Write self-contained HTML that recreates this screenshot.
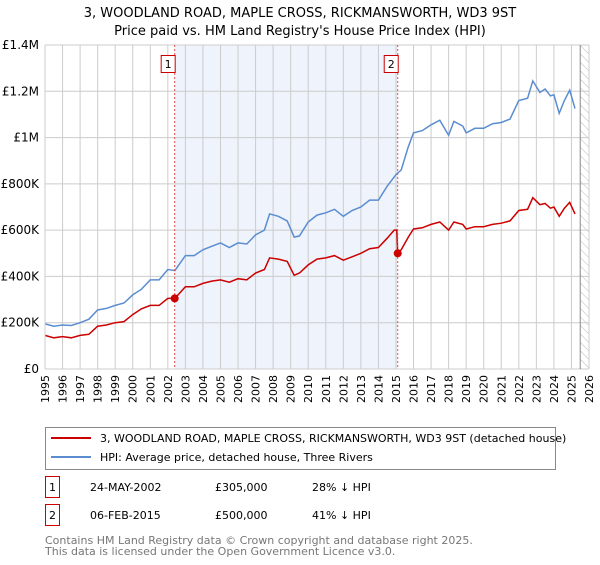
<!DOCTYPE html>
<html><head><meta charset="utf-8"><style>
body{margin:0;background:#fff;font-family:"Liberation Sans","DejaVu Sans",sans-serif}
svg text{font-family:"DejaVu Sans","Liberation Sans",sans-serif}
</style></head><body>
<svg id="c" width="600" height="560" xmlns="http://www.w3.org/2000/svg">
<text x="300" y="17" text-anchor="middle" font-size="13">3, WOODLAND ROAD, MAPLE CROSS, RICKMANSWORTH, WD3 9ST</text>
<text x="300" y="35" text-anchor="middle" font-size="13">Price paid vs. HM Land Registry's House Price Index (HPI)</text>
<g id="plot"></g>
<g>
<rect x="45.5" y="427.5" width="510" height="42" fill="#fff" stroke="#888"/>
<line x1="51" y1="438" x2="91" y2="438" stroke="#cc0000" stroke-width="2"/>
<text x="100" y="442" font-size="11">3, WOODLAND ROAD, MAPLE CROSS, RICKMANSWORTH, WD3 9ST (detached house)</text>
<line x1="51" y1="457" x2="91" y2="457" stroke="#5b8dd0" stroke-width="2"/>
<text x="100" y="461" font-size="11">HPI: Average price, detached house, Three Rivers</text>
</g>
<g font-size="11">
<rect x="45.5" y="476.5" width="14" height="21" fill="#fff" stroke="#cc0000"/><text x="52.5" y="491" text-anchor="middle">1</text>
<text x="90" y="491">24-MAY-2002</text><text x="215" y="491">£305,000</text><text x="312" y="491">28% ↓ HPI</text>
<rect x="45.5" y="504.5" width="14" height="21" fill="#fff" stroke="#cc0000"/><text x="52.5" y="519" text-anchor="middle">2</text>
<text x="90" y="519">06-FEB-2015</text><text x="215" y="519">£500,000</text><text x="312" y="519">41% ↓ HPI</text>
</g>
<text x="45" y="544" font-size="11" fill="#777">Contains HM Land Registry data © Crown copyright and database right 2025.</text>
<text x="45" y="555" font-size="11" fill="#777">This data is licensed under the Open Government Licence v3.0.</text>
</svg>
<script>
const hpiYears=[1995,1995.5,1996,1996.5,1997,1997.5,1998,1998.5,1999,1999.5,2000,2000.5,2001,2001.5,2002,2002.4,2003,2003.5,2004,2004.5,2005,2005.5,2006,2006.5,2007,2007.5,2007.8,2008.3,2008.8,2009.2,2009.5,2010,2010.5,2011,2011.5,2012,2012.5,2013,2013.5,2014,2014.5,2015,2015.3,2015.7,2016,2016.5,2017,2017.5,2018,2018.3,2018.8,2019,2019.5,2020,2020.5,2021,2021.5,2022,2022.5,2022.8,2023.2,2023.5,2023.8,2024,2024.3,2024.6,2024.9,2025.2];
const hpiValues=[195,185,190,188,200,215,255,262,275,285,320,345,385,385,430,425,490,490,515,530,545,525,545,540,580,600,670,660,640,570,575,635,665,675,690,660,685,700,730,730,790,840,860,960,1020,1030,1055,1075,1010,1070,1050,1020,1040,1040,1060,1065,1080,1160,1170,1245,1195,1210,1180,1185,1105,1160,1205,1125];
const priceYears=[1995,1995.5,1996,1996.5,1997,1997.5,1998,1998.5,1999,1999.5,2000,2000.5,2001,2001.5,2002,2002.4,2003,2003.5,2004,2004.5,2005,2005.5,2006,2006.5,2007,2007.5,2007.8,2008.3,2008.8,2009.2,2009.5,2010,2010.5,2011,2011.5,2012,2012.5,2013,2013.5,2014,2014.5,2014.9,2015.05,2015.1,2015.3,2015.7,2016,2016.5,2017,2017.5,2018,2018.3,2018.8,2019,2019.5,2020,2020.5,2021,2021.5,2022,2022.5,2022.8,2023.2,2023.5,2023.8,2024,2024.3,2024.6,2024.9,2025.2];
const priceValues=[145,135,140,135,145,150,185,190,200,205,235,260,275,275,305,305,355,355,370,380,385,375,390,385,415,430,480,475,465,405,415,450,475,480,490,470,485,500,520,525,565,600,600,500,515,570,605,610,625,635,600,635,625,605,615,615,625,630,640,685,690,740,710,715,695,700,660,695,720,670];
const saleYears=[2002.39,2015.1];
const saleValues=[305,500];
const saleLabels=["1","2"];
const yTicks=[0,200,400,600,800,1000,1200,1400];
const yTickLabels=["£0","£200K","£400K","£600K","£800K","£1M","£1.2M","£1.4M"];
const xTicks=[1995,1996,1997,1998,1999,2000,2001,2002,2003,2004,2005,2006,2007,2008,2009,2010,2011,2012,2013,2014,2015,2016,2017,2018,2019,2020,2021,2022,2023,2024,2025,2026];
const X0=45,X1=589,Y0=369,Y1=45;
const xs=y=>X0+(y-1995)/(2026-1995)*(X1-X0);
const ys=v=>Y0-v/1400*(Y0-Y1);
const NS="http://www.w3.org/2000/svg";
const g=document.getElementById('plot');
function mk(t,a){const e=document.createElementNS(NS,t);for(const k in a)e.setAttribute(k,a[k]);g.appendChild(e);return e;}
let e=mk('rect',{x:X0,y:Y1,width:X1-X0,height:Y0-Y1,fill:'#fff'});


e=mk('rect',{x:xs(saleYears[0]),y:Y1,width:xs(saleYears[1])-xs(saleYears[0]),height:Y0-Y1,fill:'#eef3fc'});


const defs=mk('defs',{});
defs.innerHTML='<pattern id="h" width="6" height="6" patternUnits="userSpaceOnUse" patternTransform="rotate(-45)"><line x1="0" y1="0" x2="0" y2="6" stroke="#bbb" stroke-width="1"/></pattern>';
e=mk('rect',{x:xs(2025.5),y:Y1,width:X1-xs(2025.5),height:Y0-Y1,fill:'url(#h)'});


xTicks.forEach(t=>{
  let l=mk('line',{x1:xs(t),x2:xs(t),y1:Y1,y2:Y0,stroke:'#ccc'});
  
  
  let tx=mk('text',{x:0,y:0,'font-size':11,'text-anchor':'end',transform:`translate(${xs(t)+4},${Y0+6}) rotate(-90)`});
  tx.textContent=t;
  
  
});
yTicks.forEach((t,i)=>{
  let l=mk('line',{x1:X0,x2:X1,y1:ys(t),y2:ys(t),stroke:'#ccc'});
  
  
  let tx=mk('text',{x:X0-6,y:ys(t)+4,'font-size':12,'text-anchor':'end'});
  tx.textContent=yTickLabels[i];
  
  
});
e=mk('line',{x1:xs(2025.5),x2:xs(2025.5),y1:Y1,y2:Y0,stroke:'#888'});


e=mk('path',{d:'M'+hpiYears.map((y,i)=>xs(y).toFixed(1)+','+ys(hpiValues[i]).toFixed(1)).join('L'),fill:'none',stroke:'#5b8dd0','stroke-width':1.5});


e=mk('path',{d:'M'+priceYears.map((y,i)=>xs(y).toFixed(1)+','+ys(priceValues[i]).toFixed(1)).join('L'),fill:'none',stroke:'#cc0000','stroke-width':1.5});


saleYears.forEach((y,i)=>{
  let l=mk('line',{x1:xs(y),x2:xs(y),y1:Y1,y2:Y0,stroke:'#e05050','stroke-dasharray':'2,2'});
  
  
  let c=mk('circle',{cx:xs(y),cy:ys(saleValues[i]),r:4,fill:'#cc0000'});
  
  
  let r=mk('rect',{x:xs(y)-13.5,y:55.5,width:14,height:17,fill:'#fff',stroke:'#cc0000'});
  
  
  let t=mk('text',{x:xs(y)-6.5,y:68,'font-size':11,'text-anchor':'middle'});
  t.textContent=saleLabels[i];
  
  
});
e=mk('line',{x1:X0,x2:X0,y1:Y1,y2:Y0,stroke:'#ccc'});


</script>
</body></html>
